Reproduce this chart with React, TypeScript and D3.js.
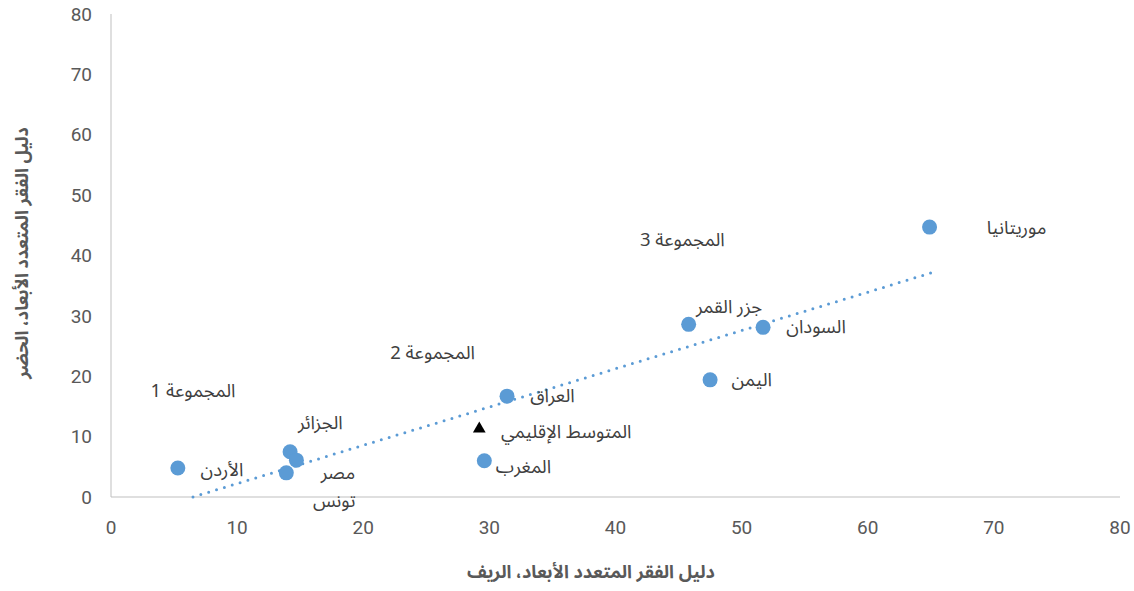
import React from "react";
import * as d3 from "d3";

const W = 1134;
const H = 591;

// Countries: rural MPI (x), urban MPI (y)
const countries = ["الأردن", "الجزائر", "تونس", "مصر", "العراق", "المغرب", "جزر القمر", "السودان", "اليمن", "موريتانيا"];
const ruralValues = [5.3, 14.2, 14.7, 13.9, 31.4, 29.6, 45.8, 51.7, 47.5, 64.9];
const urbanValues = [4.8, 7.5, 6.1, 4.0, 16.7, 6.0, 28.6, 28.1, 19.4, 44.7];

// Regional average
const avgLabel = "المتوسط الإقليمي";
const avgRural = 29.2;
const avgUrban = 11.3;

// Trend line end points
const trendX = [6.5, 65.0];
const trendY = [0, 37.1];

// Labels (text, x, y in data units)
const labelTexts = ["الأردن", "الجزائر", "مصر", "تونس", "العراق", "المتوسط الإقليمي", "المغرب", "جزر القمر", "السودان", "اليمن", "موريتانيا", "المجموعة 1", "المجموعة 2", "المجموعة 3"];
const labelX = [8.8, 16.6, 18.0, 17.7, 35.0, 36.1, 32.7, 49.0, 55.9, 50.8, 71.8, 6.5, 25.5, 45.3];
const labelY = [4.5, 12.4, 4.0, -0.6, 16.8, 10.9, 5.1, 31.6, 28.2, 19.5, 44.7, 17.7, 24.0, 42.6];

const xTicks = [0, 10, 20, 30, 40, 50, 60, 70, 80];
const yTicks = [0, 10, 20, 30, 40, 50, 60, 70, 80];

const xTitle = "دليل الفقر المتعدد الأبعاد، الريف";
const yTitle = "دليل الفقر المتعدد الأبعاد، الحضر";

const arabicFont = "'Noto Sans Arabic', 'DejaVu Sans', sans-serif";
const numFont = "'Liberation Sans Narrow', 'Roboto', sans-serif";

export default function App() {
  const x = d3.scaleLinear().domain([0, 80]).range([111, 1120]);
  const y = d3.scaleLinear().domain([0, 80]).range([497, 14]);

  const line = d3
    .line<number>()
    .x((_, i) => x(trendX[i]))
    .y((_, i) => y(trendY[i]));

  const tri = d3.symbol().type(d3.symbolTriangle).size(70)();

  return (
    <svg width={W} height={H} style={{ position: "absolute", left: 0, top: 0, background: "#fff" }}>
      {/* axes */}
      <line x1={x(0)} x2={x(0)} y1={y(80)} y2={y(0)} stroke="#BFBFBF" strokeWidth={1} />
      <line x1={x(0)} x2={x(80)} y1={y(0)} y2={y(0)} stroke="#BFBFBF" strokeWidth={1} />

      {yTicks.map((t) => (
        <text key={"y" + t} x={92} y={y(t)} dy="0.35em" textAnchor="end" fontFamily={numFont} fontSize={19} fill="#595959">
          {t}
        </text>
      ))}
      {xTicks.map((t) => (
        <text key={"x" + t} x={x(t)} y={527} dy="0.35em" textAnchor="middle" fontFamily={numFont} fontSize={19} fill="#595959">
          {t}
        </text>
      ))}

      {/* trend line */}
      <path
        d={line(trendX) || ""}
        fill="none"
        stroke="#5B9BD5"
        strokeWidth={3}
        strokeDasharray="0 8.2"
        strokeLinecap="round"
      />

      {/* points */}
      {countries.map((c, i) => (
        <circle key={c} cx={x(ruralValues[i])} cy={y(urbanValues[i])} r={7.5} fill="#5B9BD5" />
      ))}
      <path d={tri || ""} transform={`translate(${x(avgRural)},${y(avgUrban)})`} fill="#000" />

      {/* labels */}
      {labelTexts.map((t, i) => (
        <text
          key={t}
          x={x(labelX[i])}
          y={y(labelY[i])}
          dy="0.35em"
          textAnchor="middle"
          fontFamily={arabicFont}
          fontSize={18.5}
          fill="#404040"
          direction="rtl"
        >
          {t}
        </text>
      ))}

      {/* axis titles */}
      <text x={591} y={578} textAnchor="middle" fontFamily={arabicFont} fontSize={18} fontWeight="bold" fill="#595959" direction="rtl">
        {xTitle}
      </text>
      <text
        transform="translate(22,253) rotate(-90)"
        dy="0.35em"
        textAnchor="middle"
        fontFamily={arabicFont}
        fontSize={18}
        fontWeight="bold"
        fill="#595959"
        direction="rtl"
      >
        {yTitle}
      </text>
    </svg>
  );
}
